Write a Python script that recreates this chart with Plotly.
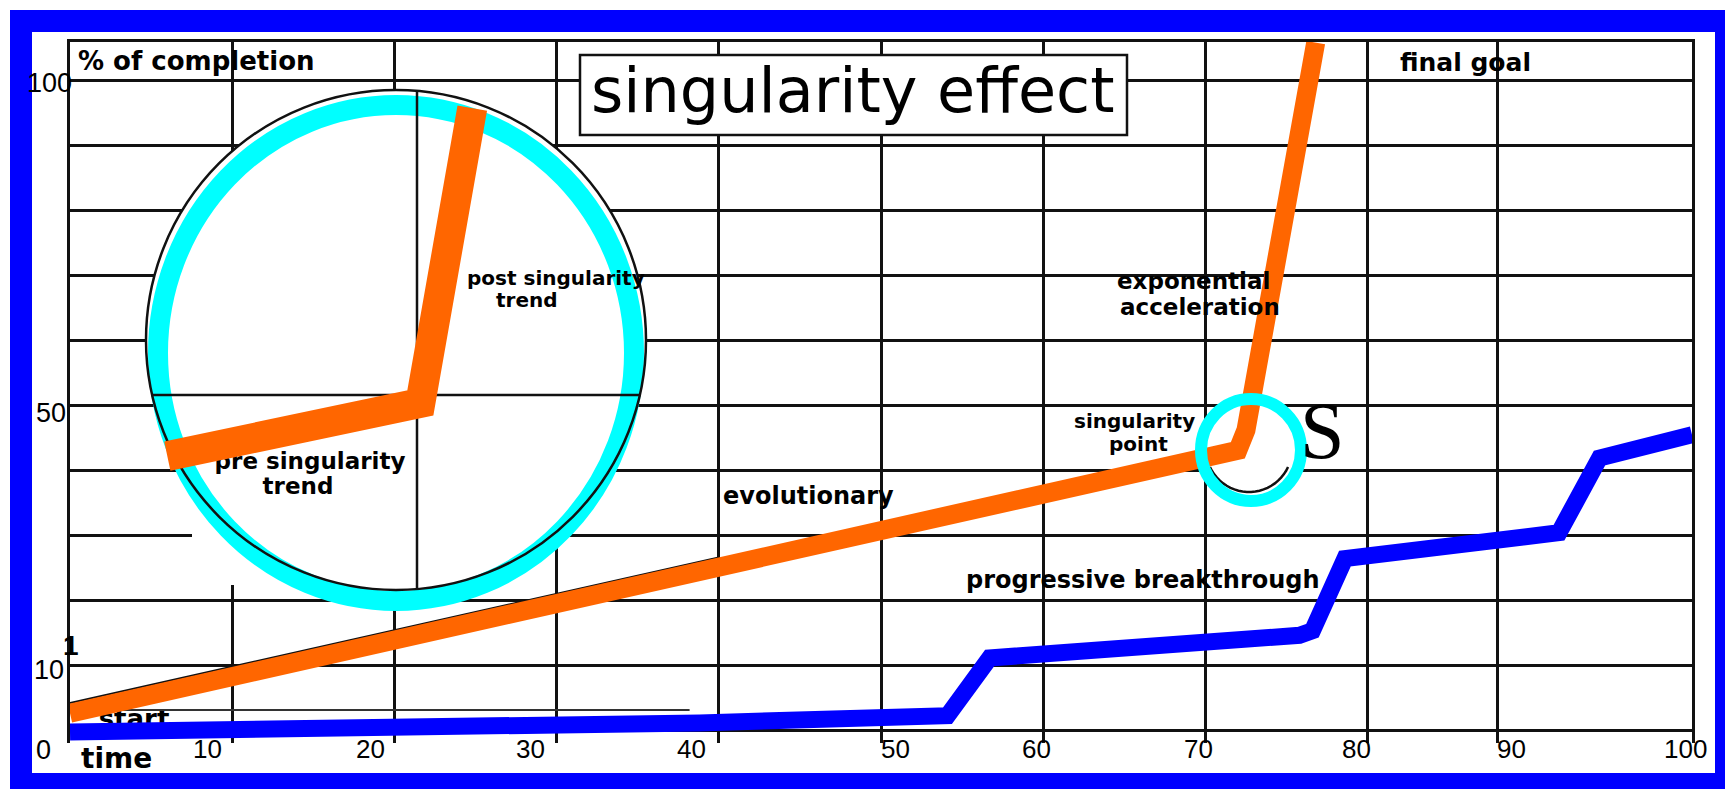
import numpy as np
import plotly.graph_objects as go

# ---------------- data (axis units: x = time 0..100, y = % of completion) ----------------
orange_x = [0, 70.0, 72.0, 72.5, 76.8]
orange_y = [2.6, 41.9, 43.1, 46.2, 105.9]

inset_x = [6.0, 21.6, 24.8]
inset_y = [42.2, 50.4, 95.8]

blue_x = [0, 17.3, 38.8, 54.1, 56.7, 75.8, 76.6, 78.6, 91.8, 94.3, 100.0]
blue_y = [-0.3, 0.15, 1.1, 2.2, 11.1, 14.6, 15.3, 26.4, 30.4, 41.9, 45.5]

edge_x = [0, 40]
edge_y = [4.15, 26.6]

base_x = [0, 38.2]
base_y = [3.1, 3.1]

x_grid = [10, 20, 30, 40, 50, 60, 70, 80, 88]
y_grid = [10, 20, 30, 40, 50, 60, 70, 80, 90, 100]

x_tick_text = ["10", "20", "30", "40", "50", "60", "70", "80", "90", "100"]
x_tick_pos = [8.45, 18.5, 28.4, 38.3, 50.9, 59.6, 69.6, 79.3, 88.9, 99.6]
y_tick_text = ["100", "50", "10", "0"]
y_tick_pos = [99.7, 48.8, 9.2, -3.1]

# ---------------- geometry (page pixels -> axis / paper) ----------------
OFF = 8                      # page body margin
W, H = 1733 - OFF, 789 - OFF
L, T = 70 - OFF, 42 - OFF
R = W - (1692 - OFF)
B = H - (743 - OFF)
XR = (0, 100)
YR = (-2, 106)
pw = W - L - R
ph = H - T - B


def X(px):
    return XR[0] + (px - OFF - L) / pw * (XR[1] - XR[0])


def Y(py):
    return YR[1] - (py - OFF - T) / ph * (YR[1] - YR[0])


def PX(px):
    return (px - OFF - L) / pw


def PY(py):
    return (H - B - (py - OFF)) / ph


BLUE = "#0000FF"
ORANGE = "#FF6600"
CYAN = "#00FFFF"
INK = "#111111"
LBL = "DejaVu Sans"
NUM = "Liberation Sans"

fig = go.Figure()

# labels that sit underneath the lines
fig.add_trace(go.Scatter(
    x=[X(310), X(298), X(134)], y=[Y(463), Y(488), Y(721)],
    mode="text", text=["pre singularity", "trend", "start"],
    textposition="middle center",
    textfont=dict(family=LBL, size=[23, 23, 26], color="black", weight="bold"),
    hoverinfo="skip", showlegend=False, cliponaxis=False))

# thin black edge lines
fig.add_trace(go.Scatter(x=edge_x, y=edge_y, mode="lines",
                         line=dict(color=INK, width=2), hoverinfo="skip", showlegend=False))
fig.add_trace(go.Scatter(x=base_x, y=base_y, mode="lines",
                         line=dict(color="#333333", width=2), hoverinfo="skip", showlegend=False))

# progressive breakthrough
fig.add_trace(go.Scatter(x=blue_x, y=blue_y, mode="lines",
                         line=dict(color=BLUE, width=17), hoverinfo="skip", showlegend=False))
# evolutionary / exponential
fig.add_trace(go.Scatter(x=orange_x, y=orange_y, mode="lines",
                         line=dict(color=ORANGE, width=19), hoverinfo="skip", showlegend=False))
# magnified inset
fig.add_trace(go.Scatter(x=inset_x, y=inset_y, mode="lines",
                         line=dict(color=ORANGE, width=30), hoverinfo="skip", showlegend=False))

shapes = []
# blue frame
shapes.append(dict(type="rect", xref="paper", yref="paper", x0=PX(10), x1=PX(1790),
                   y0=PY(830), y1=PY(10), fillcolor=BLUE, line_width=0, layer="below"))
shapes.append(dict(type="rect", xref="paper", yref="paper", x0=PX(32), x1=PX(1715),
                   y0=PY(773), y1=PY(32), fillcolor="white", line_width=0, layer="below"))

# big magnifier circle
shapes.append(dict(type="circle", xref="x", yref="y", x0=X(146), x1=X(646), y0=Y(590), y1=Y(90),
                   fillcolor="white", line_width=0, layer="between"))
shapes.append(dict(type="circle", xref="x", yref="y", x0=X(158), x1=X(634), y0=Y(601), y1=Y(105),
                   fillcolor="white", line_width=0, layer="between"))
shapes.append(dict(type="rect", xref="x", yref="y", x0=X(192), x1=X(246), y0=Y(585), y1=Y(526),
                   fillcolor="white", line_width=0, layer="between"))
shapes.append(dict(type="circle", xref="x", yref="y", x0=X(158), x1=X(634), y0=Y(601), y1=Y(105),
                   fillcolor="rgba(0,0,0,0)", line=dict(color=CYAN, width=20), layer="between"))
shapes.append(dict(type="circle", xref="x", yref="y", x0=X(146), x1=X(646), y0=Y(590), y1=Y(90),
                   fillcolor="rgba(0,0,0,0)", line=dict(color=INK, width=2.5), layer="between"))
shapes.append(dict(type="line", xref="x", yref="y", x0=X(417), x1=X(417), y0=Y(590), y1=Y(91),
                   line=dict(color=INK, width=2.5), layer="between"))
shapes.append(dict(type="line", xref="x", yref="y", x0=X(151), x1=X(641), y0=Y(395), y1=Y(395),
                   line=dict(color=INK, width=2.5), layer="between"))

# small singularity circle
shapes.append(dict(type="circle", xref="x", yref="y", x0=X(1201), x1=X(1301), y0=Y(501), y1=Y(399),
                   fillcolor="white", line_width=0, layer="between"))
t = np.linspace(np.arcsin(18 / 43), np.pi - np.arcsin(18 / 43), 24)
arc = " ".join(("M" if i == 0 else "L") + f"{X(1249 + 43 * np.cos(a)):.4f},{Y(449 + 43 * np.sin(a)):.4f}"
               for i, a in enumerate(t))
shapes.append(dict(type="path", xref="x", yref="y", path=arc,
                   line=dict(color=INK, width=2.5), layer="between"))
shapes.append(dict(type="circle", xref="x", yref="y", x0=X(1201), x1=X(1301), y0=Y(501), y1=Y(399),
                   fillcolor="rgba(0,0,0,0)", line=dict(color=CYAN, width=12), layer="above"))

# title box
shapes.append(dict(type="rect", xref="x", yref="y", x0=X(580), x1=X(1127), y0=Y(135), y1=Y(55),
                   fillcolor="white", line=dict(color=INK, width=2.5), layer="between"))

annotations = []


def ann(text, px, py, size, family=LBL, bold=True, xanchor="center"):
    annotations.append(dict(text=text, x=PX(px), y=PY(py), xref="paper", yref="paper",
                            showarrow=False, xanchor=xanchor, yanchor="middle",
                            font=dict(family=family, size=size, color="black",
                                      weight="bold" if bold else "normal")))


ann("singularity effect", 853, 91, 62, bold=False)
ann("% of completion", 196, 61, 26)
ann("final goal", 1465, 62, 25)
ann("post singularity", 556, 278, 20)
ann("trend", 527, 300, 20)
ann("exponential", 1193, 281, 23)
ann("acceleration", 1200, 307, 23)
ann("singularity", 1134, 421, 20)
ann("point", 1138, 444, 20)
ann("S", 1322, 431, 80, family="Liberation Serif", bold=False)
ann("evolutionary", 808, 496, 24)
ann("progressive breakthrough", 1143, 580, 24)
ann("time", 116, 758, 28)
ann("1", 71, 645, 28, family=NUM)

x_label_py = 749
for txt, pos in zip(x_tick_text, x_tick_pos):
    annotations.append(dict(text=txt, x=(pos - XR[0]) / (XR[1] - XR[0]), y=PY(x_label_py),
                            xref="paper", yref="paper", showarrow=False,
                            xanchor="center", yanchor="middle",
                            font=dict(family=NUM, size=26, color="black")))
ytick_px_x = [49, 51, 49, 43]
for txt, pos, pxx in zip(y_tick_text, y_tick_pos, ytick_px_x):
    annotations.append(dict(text=txt, x=PX(pxx), y=(pos - YR[0]) / (YR[1] - YR[0]),
                            xref="paper", yref="paper", showarrow=False,
                            xanchor="center", yanchor="middle",
                            font=dict(family=NUM, size=27, color="black")))

fig.update_layout(
    width=W, height=H, autosize=False,
    margin=dict(l=L, r=R, t=T, b=B, pad=0),
    paper_bgcolor="white", plot_bgcolor="white",
    showlegend=False,
    shapes=shapes, annotations=annotations,
    xaxis=dict(range=list(XR), tickmode="array", tickvals=x_grid, showticklabels=False, ticks="",
               showgrid=True, gridcolor=INK, gridwidth=2.6, zeroline=False,
               showline=True, linecolor=INK, linewidth=2.6, side="top", mirror=False, fixedrange=True),
    yaxis=dict(range=list(YR), tickmode="array", tickvals=y_grid, showticklabels=False, ticks="",
               showgrid=True, gridcolor=INK, gridwidth=2.6,
               zeroline=True, zerolinecolor=INK, zerolinewidth=2.6,
               showline=True, linecolor=INK, linewidth=2.6, mirror=True, fixedrange=True),
)

fig.write_html("out.html")
